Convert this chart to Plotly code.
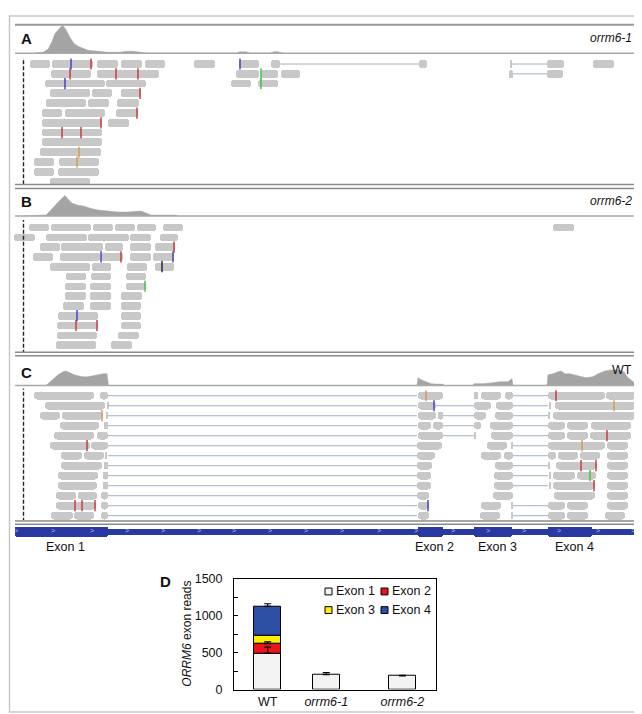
import numpy as np
import plotly.graph_objects as go

W, H = 642, 714
FONT = "Arial, Liberation Sans, sans-serif"

# ---------------- Panel A : orrm6-1 ----------------
A_cov_pos = [25, 35, 40, 44, 47, 50, 53, 55, 58, 62, 66, 70, 75, 80, 90, 100, 112, 118, 125, 132, 140,
             228, 232, 238, 242, 262, 266, 270, 275]
A_cov_depth = [0, 1, 4, 12, 20, 24, 27, 28, 24, 16, 10, 7, 5, 3, 2, 1, 1, 2, 2, 1, 0,
               0, 1.5, 1.5, 0, 0, 1.5, 1.5, 0]
A_reads = [
    [(22, 42), (44, 85), (89, 110), (113, 134), (137, 157), (186, 207), (231, 251), (263, 272), (411, 419), (502, 504), (539, 556), (585, 606)],
    [(43, 83), (89, 151), (228, 251), (253, 270), (273, 292), (501, 505), (539, 555)],
    [(37, 97), (98, 138), (223, 243), (250, 270)],
    [(42, 82), (84, 104), (113, 133)],
    [(38, 78), (80, 101), (109, 131)],
    [(34, 54), (57, 97), (108, 130)],
    [(34, 94), (100, 121)],
    [(34, 94)],
    [(34, 94)],
    [(32, 93)],
    [(26, 46), (51, 91)],
    [(26, 46), (50, 91)],
    [(42, 82)],
]
A_splits = [(1, 272, 411), (1, 504, 539), (2, 505, 539)]
A_mismatch = [(1, 63, "blue"), (1, 83, "red"), (1, 232, "blue"), (2, 62, "red"), (2, 108, "red"),
              (2, 130, "red"), (2, 253, "green"), (3, 57, "blue"), (3, 253, "green"), (4, 132, "red"),
              (6, 129, "red"), (7, 93, "red"), (8, 54, "red"), (8, 73, "red"), (10, 71, "orange"),
              (11, 69, "orange")]

# ---------------- Panel B : orrm6-2 ----------------
B_cov_pos = [15, 38, 42, 46, 50, 54, 57, 60, 64, 70, 76, 82, 90, 100, 110, 120, 128, 133, 138, 143, 148, 168, 170]
B_cov_depth = [0, 1, 5, 10, 14, 18, 21, 17, 13, 11, 10, 8, 6, 5, 4, 4, 5, 5, 3, 1, 1, 1, 0]
B_reads = [
    [(21, 41), (43, 83), (85, 105), (107, 127), (129, 148), (155, 175), (545, 566)],
    [(6, 27), (38, 79), (80, 121), (122, 143), (152, 170)],
    [(32, 52), (53, 95), (97, 115), (122, 143), (147, 167)],
    [(25, 45), (52, 92), (93, 115), (122, 143), (145, 166)],
    [(42, 82), (84, 103), (119, 139), (147, 166)],
    [(58, 78), (83, 103), (118, 138)],
    [(57, 78), (82, 103), (118, 138)],
    [(57, 78), (82, 103), (113, 134)],
    [(55, 76), (82, 103), (113, 133)],
    [(50, 90), (113, 133)],
    [(49, 90), (113, 133)],
    [(49, 89), (110, 131)],
    [(48, 88), (103, 124)],
]
B_mismatch = [(3, 166, "red"), (4, 93, "blue"), (4, 113, "red"), (4, 165, "blue"), (5, 154, "black"),
              (7, 137, "green"), (10, 69, "blue"), (11, 68, "red"), (11, 89, "red")]

# ---------------- Panel C : WT ----------------
C_cov_pos = [38, 41, 45, 50, 55, 58, 62, 66, 70, 75, 80, 85, 90, 95, 99, 100.5,
             409, 410, 413, 418, 423, 428, 435, 436,
             465, 466, 475, 485, 492, 500, 503, 504, 505,
             539, 540, 545, 550, 553, 557, 562, 570, 578, 585, 590, 597, 603, 610, 616, 620, 625, 628]
C_cov_depth = [0, 3, 7, 11, 14, 15, 13, 11, 10, 9, 9, 10, 11, 12, 12, 0,
               0, 8, 6, 4, 2, 1.5, 1.5, 0,
               0, 2, 2, 3, 4, 4, 7, 7, 0,
               0, 11, 12, 14, 15, 12, 12, 10, 8, 9, 12, 15, 16, 16, 14, 8, 4, 2]
C_reads = [
    [(26, 86), (92, 100), (410, 435), (466, 470), (473, 493), (497, 505), (540, 597), (598, 628)],
    [(37, 97), (99, 100.5), (410, 428), (466, 483), (488, 505), (541, 543), (547, 628)],
    [(32, 52), (54, 95), (98, 100), (410, 428), (430, 435), (466, 478), (487, 505), (540, 542), (545, 628)],
    [(52, 91), (96, 100), (410, 423), (425, 435), (466, 473), (482, 505), (540, 557), (559, 580), (583, 623)],
    [(46, 86), (89, 100), (410, 435), (466, 468), (483, 505), (540, 557), (559, 580), (582, 623)],
    [(42, 82), (83, 100), (409, 434), (479, 499), (503, 505), (540, 597), (599, 620)],
    [(53, 74), (76, 96), (97, 99), (409, 427), (473, 493), (496, 505), (540, 548), (550, 570), (572, 592), (599, 620)],
    [(53, 94), (96, 100), (409, 424), (487, 505), (540, 542), (548, 589), (599, 620)],
    [(50, 90), (95, 100), (409, 423), (486, 505), (541, 543), (545, 567), (569, 588), (599, 620)],
    [(50, 89), (95, 100), (409, 423), (486, 505), (541, 543), (545, 587), (599, 620)],
    [(48, 68), (70, 89), (93, 100), (409, 421), (485, 505), (546, 587), (599, 620)],
    [(48, 88), (93, 100), (410, 421), (473, 493), (503, 505), (540, 557), (559, 580), (599, 620)],
    [(43, 65), (66, 86), (93, 100), (410, 421), (472, 492), (503, 505), (540, 557), (559, 580), (597, 617)],
]
C_splits = ([(r, 100, 409) for r in range(1, 14)]
            + [(2, 428, 466), (3, 435, 466), (4, 435, 466), (5, 435, 466)]
            + [(r, 505, 540) for r in [1, 2, 3, 4, 5, 6, 7, 8, 9, 10, 12, 13]])
C_mismatch = [(1, 418, "orange"), (1, 548, "red"), (2, 426, "blue"), (2, 606, "orange"), (3, 94, "orange"),
              (3, 627, "blue"), (5, 599, "red"), (6, 79, "red"), (6, 574, "orange"), (8, 573, "red"),
              (8, 588, "red"), (9, 582, "green"), (10, 586, "red"), (12, 67, "red"), (12, 74, "red"),
              (12, 87, "red"), (12, 420, "blue")]

# gene model
GENE_START, GENE_END = 7, 628
EXON_NAMES = ["Exon 1", "Exon 2", "Exon 3", "Exon 4"]
EXON_START = [7, 410, 466, 540]
EXON_END = [100, 435, 504, 584]
CHEVRON_POS = [8, 45, 84, 119, 155, 191, 226, 262, 298, 334, 371, 408, 445, 480, 516, 551, 590, 625]
CENTER_POS = 15.5

# ---------------- Panel D : bar chart ----------------
D_categories = ["WT", "<i>orrm6-1</i>", "<i>orrm6-2</i>"]
D_cat_pos = [0, 0.87, 2]
D_exon1 = [490, 200, 185]
D_exon2 = [130, None, None]
D_exon3 = [115, None, None]
D_exon4 = [390, None, None]
D_err1 = [85, 30, 8]
D_err2 = [25, 0, 0]
D_err3 = [0, 0, 0]
D_err4 = [36, 0, 0]
D_colors = ["#f3f3f3", "#e8141b", "#ffec00", "#2d4fa3"]
D_yticks = [0, 250, 500, 750, 1000, 1250, 1500]
D_yticklabels = ["0", "", "500", "", "1000", "", "1500"]

MM_COLORS = {"red": "#c8323a", "blue": "#3a3ac8", "green": "#3cc23c", "orange": "#d49a4a", "black": "#222222"}
READ_COLOR = "#c8c8c8"
COV_COLOR = "#a4a4a4"
SPLIT_COLOR = "#9fb3c4"
GENE_COLOR = "#2a38a2"


def py(px):
    return 1 - px / H


def px_x(px):
    return px / W


fig = go.Figure()

panels = [
    ("y", "y2", A_cov_pos, A_cov_depth, A_reads, A_splits, A_mismatch),
    ("y3", "y4", B_cov_pos, B_cov_depth, B_reads, [], B_mismatch),
    ("y5", "y6", C_cov_pos, C_cov_depth, C_reads, C_splits, C_mismatch),
]

for cov_ax, rd_ax, cpos, cdep, reads, splits, mms in panels:
    fig.add_trace(go.Scatter(x=cpos, y=cdep, mode="lines", fill="tozeroy", fillcolor=COV_COLOR,
                             line=dict(color=COV_COLOR, width=0.5), xaxis="x", yaxis=cov_ax,
                             showlegend=False, hoverinfo="skip"))
    sx, sy = [], []
    for r, a, b in splits:
        sx += [a, b, None]
        sy += [r, r, None]
    if sx:
        fig.add_trace(go.Scatter(x=sx, y=sy, mode="lines", line=dict(color=SPLIT_COLOR, width=1),
                                 xaxis="x", yaxis=rd_ax, showlegend=False, hoverinfo="skip"))
    rows, starts, lens = [], [], []
    for i, row in enumerate(reads):
        for a, b in row:
            rows.append(i + 1)
            starts.append(a)
            lens.append(max(b - a, 1.5))
    fig.add_trace(go.Bar(orientation="h", y=rows, x=lens, base=starts, width=0.78,
                         marker=dict(color=READ_COLOR, line=dict(width=0), cornerradius=3),
                         xaxis="x", yaxis=rd_ax, showlegend=False, hoverinfo="skip"))
    fig.add_trace(go.Scatter(x=[CENTER_POS, CENTER_POS], y=[0, 14], mode="lines",
                             line=dict(color="#222", width=1.4, dash="4px,2px"),
                             xaxis="x", yaxis=rd_ax, showlegend=False, hoverinfo="skip"))
    for cname in MM_COLORS:
        mx = [p for r, p, c in mms if c == cname]
        my = [r for r, p, c in mms if c == cname]
        if mx:
            fig.add_trace(go.Scatter(x=mx, y=my, mode="markers",
                                     marker=dict(symbol="line-ns", size=8,
                                                 line=dict(color=MM_COLORS[cname], width=1.4)),
                                     xaxis="x", yaxis=rd_ax, showlegend=False, hoverinfo="skip"))

# gene model
fig.add_trace(go.Bar(orientation="h", y=[0], x=[GENE_END - GENE_START], base=[GENE_START], width=0.95,
                     marker=dict(color=GENE_COLOR, line=dict(width=0)), xaxis="x", yaxis="y7",
                     showlegend=False, hoverinfo="skip"))
fig.add_trace(go.Bar(orientation="h", y=[0] * 4, x=list(np.array(EXON_END) - np.array(EXON_START)),
                     base=EXON_START, width=1.45,
                     marker=dict(color=GENE_COLOR, line=dict(width=0), cornerradius=2), xaxis="x", yaxis="y7",
                     showlegend=False, hoverinfo="skip"))
fig.add_trace(go.Scatter(x=CHEVRON_POS, y=[0] * len(CHEVRON_POS), mode="text", text=[">"] * len(CHEVRON_POS),
                         textfont=dict(size=7, color="#b8c0f0", family=FONT), xaxis="x", yaxis="y7",
                         showlegend=False, hoverinfo="skip"))

# bar chart D
exon_vals = [D_exon1, D_exon2, D_exon3, D_exon4]
exon_errs = [D_err1, D_err2, D_err3, D_err4]
base = np.zeros(3)
tops = []
for name, vals, col in zip(EXON_NAMES, exon_vals, D_colors):
    v = np.array([np.nan if x is None else x for x in vals], dtype=float)
    fig.add_trace(go.Bar(x=D_cat_pos, y=v, base=base.copy(), width=0.4, name=name,
                         marker=dict(color=col, line=dict(color="#000", width=1)),
                         xaxis="x2", yaxis="y8", showlegend=False))
    base = base + np.nan_to_num(v)
    tops.append(base.copy())
for top, err in zip(tops, exon_errs):
    e = np.array(err, dtype=float)
    keep = e > 0
    fig.add_trace(go.Scatter(x=np.array(D_cat_pos)[keep], y=top[keep], mode="markers",
                             marker=dict(size=1, opacity=0),
                             error_y=dict(type="data", array=e[keep], arrayminus=[0] * int(keep.sum()),
                                          symmetric=False, color="#000", thickness=1.2, width=3.5),
                             xaxis="x2", yaxis="y8", showlegend=False, hoverinfo="skip"))

hidden = dict(visible=False, fixedrange=True)
fig.update_layout(
    width=W, height=H, margin=dict(l=0, r=0, t=0, b=0),
    paper_bgcolor="white", plot_bgcolor="rgba(0,0,0,0)",
    barmode="overlay", bargap=0, showlegend=False,
    font=dict(family=FONT, color="#111"),
    xaxis=dict(domain=[0, 1], range=[0, W], **hidden),
    yaxis=dict(domain=[py(39), py(10)], range=[0, 29], anchor="x", **hidden),
    yaxis2=dict(domain=[py(173), py(44)], range=[13.3, 0.4], anchor="x", **hidden),
    yaxis3=dict(domain=[py(205), py(177)], range=[0, 28], anchor="x", **hidden),
    yaxis4=dict(domain=[py(344), py(209)], range=[13.73, 0.23], anchor="x", **hidden),
    yaxis5=dict(domain=[py(378), py(347)], range=[0, 31], anchor="x", **hidden),
    yaxis6=dict(domain=[py(515), py(381)], range=[13.42, 0.28], anchor="x", **hidden),
    yaxis7=dict(domain=[py(534), py(520)], range=[-1, 1], anchor="x", **hidden),
    xaxis2=dict(domain=[px_x(226), px_x(428)], range=[-0.5, 2.5], anchor="y8",
                tickvals=D_cat_pos, ticktext=D_categories, ticks="", showline=True, mirror=True,
                linecolor="#000", linewidth=1, showgrid=False, zeroline=False,
                tickfont=dict(size=12.5, family=FONT, color="#111"), fixedrange=True),
    yaxis8=dict(domain=[py(688), py(575)], range=[0, 1500], anchor="x2",
                tickvals=D_yticks, ticktext=D_yticklabels, ticks="inside", ticklen=4, tickcolor="#000",
                ticklabelstandoff=8,
                showline=True, mirror=True, linecolor="#000", linewidth=1, showgrid=False, zeroline=False,
                tickfont=dict(size=12.5, family=FONT, color="#111"), fixedrange=True),
)

shapes = []
shapes.append(dict(type="rect", xref="paper", yref="paper", x0=px_x(1.5), x1=px_x(638), y0=py(711), y1=py(1),
                   line=dict(color="#c8c8c8", width=1.5)))
for yy, w, c in [(10, 2, "#9a9a9a"), (39, 1.5, "#a8a8a8"), (173, 1.5, "#8a8a8a"), (177, 1.5, "#8a8a8a"),
                 (205, 1.5, "#a8a8a8"), (344, 1.5, "#8a8a8a"), (347.5, 1.5, "#8a8a8a"),
                 (378, 1.5, "#a8a8a8"), (516, 1.5, "#8a8a8a"), (519.5, 1.5, "#8a8a8a")]:
    shapes.append(dict(type="line", xref="paper", yref="paper", x0=px_x(7), x1=px_x(628), y0=py(yy), y1=py(yy),
                       line=dict(color=c, width=w)))

ann = []
def label(text, x, y, size, anchor="left", bold=False, italic=False):
    t = text
    if bold:
        t = "<b>" + t + "</b>"
    if italic:
        t = "<i>" + t + "</i>"
    ann.append(dict(text=t, x=px_x(x), y=py(y), xref="paper", yref="paper", showarrow=False,
                    xanchor=anchor, yanchor="middle", font=dict(size=size, family=FONT, color="#111")))

label("A", 11, 24, 15, bold=True)
label("orrm6-1", 626, 23, 12, anchor="right", italic=True)
label("B", 11, 190, 15, bold=True)
label("orrm6-2", 626, 190, 12, anchor="right", italic=True)
label("C", 11, 365, 15, bold=True)
label("WT", 626, 362, 12.5, anchor="right")
label("D", 150, 578, 15, bold=True)
for name, s, e in zip(EXON_NAMES, EXON_START, EXON_END):
    ann.append(dict(text=name, x=(s + e) / 2 + 4, y=py(543), xref="x", yref="paper", showarrow=False,
                    xanchor="center", yanchor="middle", font=dict(size=12.5, family=FONT, color="#111")))
ann.append(dict(text="<i>ORRM6</i> exon reads", x=px_x(179), y=py(631), xref="paper", yref="paper",
                showarrow=False, textangle=-90, xanchor="center", yanchor="middle",
                font=dict(size=12, family=FONT, color="#111")))
leg_items = [(EXON_NAMES[0], 317, 588), (EXON_NAMES[1], 373, 588), (EXON_NAMES[2], 317, 607), (EXON_NAMES[3], 373, 607)]
for (name, lx, ly), col in zip(leg_items, D_colors):
    shapes.append(dict(type="rect", xref="paper", yref="paper", x0=px_x(lx), x1=px_x(lx + 7),
                       y0=py(ly + 3.5), y1=py(ly - 3.5), fillcolor=col, line=dict(color="#000", width=1)))
    ann.append(dict(text=name, x=px_x(lx + 9), y=py(ly), xref="paper", yref="paper", showarrow=False,
                    xanchor="left", yanchor="middle", font=dict(size=12.5, family=FONT, color="#111")))
fig.update_layout(shapes=shapes, annotations=ann)

fig.write_html("out.html")
